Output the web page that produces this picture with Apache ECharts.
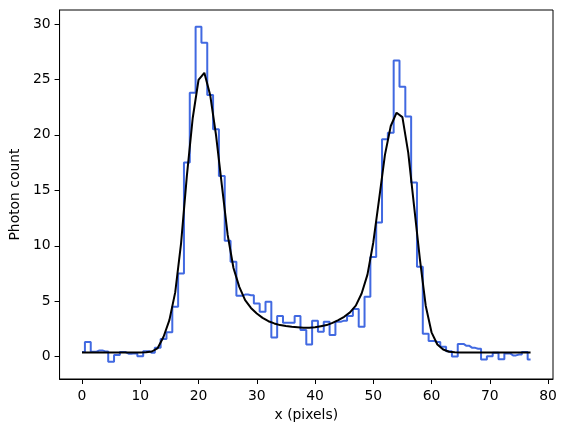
<!DOCTYPE html>
<html>
<head>
<meta charset="utf-8">
<script src="https://cdn.jsdelivr.net/npm/echarts@6/dist/echarts.min.js"></script>
<style>
  html, body { margin: 0; padding: 0; background: #fff; }
  #chart { width: 566px; height: 432px; }
</style>
</head>
<body>
<div id="chart"></div>
<script>
// pixel positions along the detector
const xPixels = [
  0, 1, 2, 3, 4, 5, 6, 7, 8, 9, 10, 11, 12, 13, 14, 15, 16, 17, 18, 19,
  20, 21, 22, 23, 24, 25, 26, 27, 28, 29, 30, 31, 32, 33, 34, 35, 36, 37, 38, 39,
  40, 41, 42, 43, 44, 45, 46, 47, 48, 49, 50, 51, 52, 53, 54, 55, 56, 57, 58, 59,
  60, 61, 62, 63, 64, 65, 66, 67, 68, 69, 70, 71, 72, 73, 74, 75, 76, 77
];

// measured photon counts (histogram)
const counts = [
  0.42, 1.32, 0.45, 0.57, 0.48, -0.45, 0.15, 0.42, 0.27, 0.3,
  0.03, 0.5, 0.35, 0.8, 1.6, 2.2, 4.5, 7.5, 17.5, 23.8,
  29.75, 28.3, 23.6, 20.5, 16.3, 10.46, 8.57, 5.5, 5.6, 5.55,
  4.8, 4.06, 4.96, 1.74, 3.67, 3.07, 3.07, 3.67, 2.4, 1.1,
  3.25, 2.25, 3.16, 1.95, 3.16, 3.25, 3.67, 4.3, 2.7, 5.4,
  9.0, 12.1, 19.6, 20.2, 26.7, 24.35, 21.65, 15.7, 8.1, 2.07,
  1.42, 1.33, 0.9, 0.5, 0.02, 1.15, 0.98, 0.8, 0.72, -0.26,
  0.05, 0.35, -0.22, 0.3, 0.12, 0.2, 0.42, -0.26
];

// fitted model
const fitValues = [
  0.37, 0.37, 0.37, 0.37, 0.37, 0.37, 0.37, 0.37, 0.37, 0.37,
  0.38, 0.4, 0.47, 0.78, 1.8, 3.3, 5.8, 10.2, 16.3, 21.5,
  24.95, 25.6, 23.6, 20.0, 15.5, 11.0, 8.0, 6.3, 5.1, 4.4,
  3.9, 3.5, 3.2, 3.0, 2.85, 2.77, 2.7, 2.65, 2.6, 2.6,
  2.65, 2.75, 2.85, 3.05, 3.3, 3.6, 4.0, 4.6, 5.7, 7.4,
  10.3, 14.2, 18.2, 20.8, 22.0, 21.6, 18.4, 13.6, 8.8, 4.6,
  2.2, 1.1, 0.65, 0.45, 0.4, 0.38, 0.37, 0.37, 0.37, 0.37,
  0.37, 0.37, 0.37, 0.37, 0.37, 0.37, 0.37, 0.37
];

const xTicks = [0, 10, 20, 30, 40, 50, 60, 70, 80];
const yTicks = [0, 5, 10, 15, 20, 25, 30];

const font = "DejaVu Sans";

const chart = echarts.init(document.getElementById("chart"), null, { renderer: "canvas" });

const option = {
  animation: false,
  backgroundColor: "#fff",
  textStyle: { fontFamily: font, color: "#000" },
  grid: {
    left: 57,
    right: 13,
    top: 10,
    bottom: 53,
    show: true,
    borderColor: "#000",
    borderWidth: 1,
    backgroundColor: "transparent",
  },
  xAxis: {
    type: "value",
    min: -3.85,
    max: 80.85,
    name: "x (pixels)",
    nameLocation: "middle",
    nameGap: 29,
    nameTextStyle: { fontFamily: font, fontSize: 13.9, color: "#000" },
    axisLine: { show: true, onZero: false, lineStyle: { color: "#000", width: 1 } },
    axisTick: { show: true, inside: false, length: 5, customValues: xTicks, lineStyle: { color: "#000" } },
    axisLabel: { customValues: xTicks, margin: 10, fontFamily: font, fontSize: 13.9, color: "#000" },
    splitLine: { show: false },
  },
  yAxis: {
    type: "value",
    min: -2.01,
    max: 31.26,
    name: "Photon count",
    nameLocation: "middle",
    nameGap: 36,
    nameRotate: 90,
    nameTextStyle: { fontFamily: font, fontSize: 13.9, color: "#000" },
    axisLine: { show: true, onZero: false, lineStyle: { color: "#000", width: 1 } },
    axisTick: { show: true, inside: false, length: 5, customValues: yTicks, lineStyle: { color: "#000" } },
    axisLabel: { customValues: yTicks, margin: 9, fontFamily: font, fontSize: 13.9, color: "#000" },
    splitLine: { show: false },
  },
  series: [
    {
      name: "counts",
      type: "line",
      step: "middle",
      data: xPixels.map((x, i) => [x, counts[i]]),
      showSymbol: false,
      lineStyle: { color: "#4169e1", width: 2 },
      z: 2,
    },
    {
      name: "fit",
      type: "line",
      data: xPixels.map((x, i) => [x, fitValues[i]]),
      showSymbol: false,
      lineStyle: { color: "#000", width: 2 },
      z: 3,
    },
  ],
};

chart.setOption(option);
</script>
</body>
</html>
